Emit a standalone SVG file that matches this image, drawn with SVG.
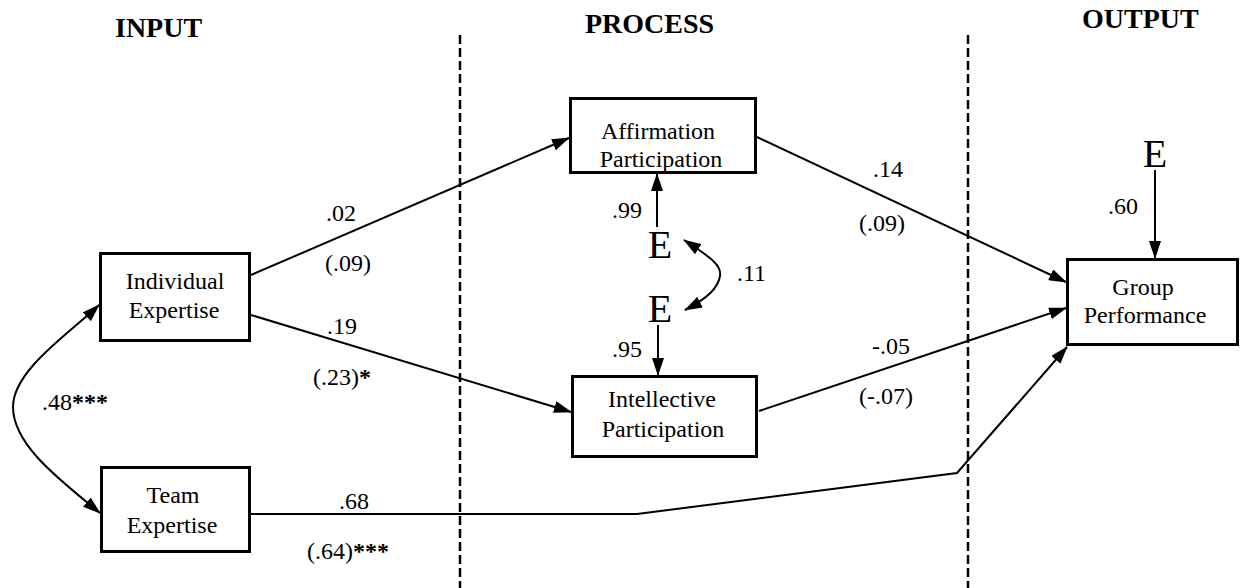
<svg xmlns="http://www.w3.org/2000/svg" width="1241" height="588" viewBox="0 0 1241 588">
  <style>
    text { font-family: "Liberation Serif", "Times New Roman", serif; fill: #000; }
    .hdr { font-size: 28px; font-weight: bold; }
    .lbl { font-size: 24px; }
    .nd { font-size: 24px; text-anchor: middle; }
    .err { font-size: 40px; text-anchor: middle; }
    .box { fill: #fff; stroke: #000; stroke-width: 3; }
    .edge { fill: none; stroke: #000; stroke-width: 2; }
    .div { fill: none; stroke: #000; stroke-width: 2.5; stroke-dasharray: 9 4; }
    .st { font-weight: bold; }
  </style>
  <defs>
    <marker id="arr" viewBox="0 0 18 12" refX="17" refY="6" markerWidth="18" markerHeight="12" markerUnits="userSpaceOnUse" orient="auto-start-reverse">
      <path d="M0,0 L18,6 L0,12 Z" fill="#000"/>
    </marker>
  </defs>

  <rect width="1241" height="588" fill="#fff"/>

  <!-- stage headings -->
  <g id="headings">
    <text class="hdr" x="115" y="37">INPUT</text>
    <text class="hdr" x="585" y="33">PROCESS</text>
    <text class="hdr" x="1082" y="28">OUTPUT</text>
  </g>

  <!-- stage dividers -->
  <g id="dividers">
    <line class="div" x1="460" y1="35" x2="460" y2="588"/>
    <line class="div" x1="968" y1="35" x2="968" y2="588"/>
  </g>

  <!-- paths between variables -->
  <g id="connectors">
    <path class="edge" marker-start="url(#arr)" marker-end="url(#arr)" d="M99,305 C70,333 13,370 13,407 C13,445 60,480 100,513"/>
    <line class="edge" marker-end="url(#arr)" x1="251" y1="275" x2="569" y2="138"/>
    <line class="edge" marker-end="url(#arr)" x1="251" y1="315" x2="571" y2="412"/>
    <line class="edge" marker-end="url(#arr)" x1="757" y1="137" x2="1066" y2="282"/>
    <line class="edge" marker-end="url(#arr)" x1="759" y1="411" x2="1066" y2="308"/>
    <polyline class="edge" marker-end="url(#arr)" points="251,514 637,514 957,473 1067,347"/>
    <line class="edge" marker-end="url(#arr)" x1="657" y1="227" x2="657" y2="174"/>
    <line class="edge" marker-end="url(#arr)" x1="658" y1="325" x2="658" y2="375"/>
    <line class="edge" marker-end="url(#arr)" x1="1155" y1="170" x2="1155" y2="258"/>
    <path class="edge" marker-start="url(#arr)" marker-end="url(#arr)" d="M684,240 C712,258 722,266 720,276 C718,288 708,298 685,310"/>
  </g>

  <!-- path coefficients -->
  <g id="coefficients">
    <text class="lbl" x="42" y="410">.48<tspan class="st">***</tspan></text>
    <text class="lbl" x="326" y="221">.02</text>
    <text class="lbl" x="325" y="271">(.09)</text>
    <text class="lbl" x="327" y="334">.19</text>
    <text class="lbl" x="313" y="385">(.23)<tspan class="st">*</tspan></text>
    <text class="lbl" x="339" y="509">.68</text>
    <text class="lbl" x="307" y="559">(.64)<tspan class="st">***</tspan></text>
    <text class="lbl" x="612" y="218">.99</text>
    <text class="lbl" x="612" y="357">.95</text>
    <text class="lbl" x="737" y="281">.11</text>
    <text class="lbl" x="873" y="177">.14</text>
    <text class="lbl" x="859" y="231">(.09)</text>
    <text class="lbl" x="872" y="354">-.05</text>
    <text class="lbl" x="859" y="404">(-.07)</text>
    <text class="lbl" x="1108" y="214">.60</text>
  </g>

  <!-- error terms -->
  <g id="errors">
    <text class="err" x="660" y="258">E</text>
    <text class="err" x="660" y="322">E</text>
    <text class="err" x="1155" y="167">E</text>
  </g>

  <g id="individual-expertise">
    <rect class="box" x="100.5" y="253.5" width="149" height="87"/>
    <text class="nd" x="175" y="289">Individual</text>
    <text class="nd" x="174" y="318">Expertise</text>
  </g>

  <g id="team-expertise">
    <rect class="box" x="101.5" y="467.5" width="148" height="84"/>
    <text class="nd" x="173" y="503">Team</text>
    <text class="nd" x="172" y="533">Expertise</text>
  </g>

  <g id="affirmation-participation">
    <rect class="box" x="570.5" y="98.5" width="185" height="74"/>
    <text class="nd" x="658" y="139">Affirmation</text>
    <text class="nd" x="661" y="167">Participation</text>
  </g>

  <g id="intellective-participation">
    <rect class="box" x="572.5" y="376.5" width="184" height="80"/>
    <text class="nd" x="662" y="407">Intellective</text>
    <text class="nd" x="663" y="437">Participation</text>
  </g>

  <g id="group-performance">
    <rect class="box" x="1067.5" y="259.5" width="170" height="85"/>
    <text class="nd" x="1143" y="295">Group</text>
    <text class="nd" x="1145" y="323">Performance</text>
  </g>
</svg>
